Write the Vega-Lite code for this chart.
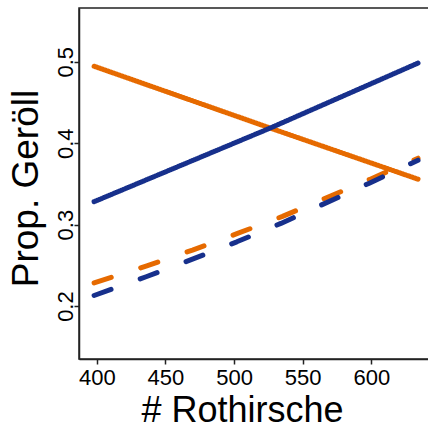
{
  "$schema": "https://vega.github.io/schema/vega-lite/v6.json",
  "autosize": {"type": "none"},
  "padding": {"left": 79, "top": 8, "right": 0, "bottom": 70},
  "width": 350,
  "height": 351,
  "background": "white",
  "config": {
    "view": {"stroke": "#222222", "strokeWidth": 1.5},
    "font": "Liberation Sans"
  },
  "data": {
    "values": [
      {"group": "orange", "kind": "solid", "x": 398, "y": 0.4945},
      {"group": "orange", "kind": "solid", "x": 526.3, "y": 0.4186},
      {"group": "orange", "kind": "solid", "x": 634, "y": 0.3558},
      {"group": "orange", "kind": "dashed", "x": 398, "y": 0.2284},
      {"group": "orange", "kind": "dashed", "x": 436.4, "y": 0.2494},
      {"group": "orange", "kind": "dashed", "x": 469.7, "y": 0.2687},
      {"group": "orange", "kind": "dashed", "x": 502.5, "y": 0.2892},
      {"group": "orange", "kind": "dashed", "x": 535.3, "y": 0.3101},
      {"group": "orange", "kind": "dashed", "x": 599.2, "y": 0.3558},
      {"group": "orange", "kind": "dashed", "x": 634, "y": 0.3816},
      {"group": "blue", "kind": "solid", "x": 398, "y": 0.3282},
      {"group": "blue", "kind": "solid", "x": 526.3, "y": 0.4186},
      {"group": "blue", "kind": "solid", "x": 634, "y": 0.4984},
      {"group": "blue", "kind": "dashed", "x": 398, "y": 0.2130},
      {"group": "blue", "kind": "dashed", "x": 435.9, "y": 0.2360},
      {"group": "blue", "kind": "dashed", "x": 469.2, "y": 0.2573},
      {"group": "blue", "kind": "dashed", "x": 502.0, "y": 0.2789},
      {"group": "blue", "kind": "dashed", "x": 534.1, "y": 0.3015},
      {"group": "blue", "kind": "dashed", "x": 598.5, "y": 0.3509},
      {"group": "blue", "kind": "dashed", "x": 634, "y": 0.3791}
    ]
  },
  "mark": {"type": "line", "strokeWidth": 5, "strokeCap": "round", "strokeJoin": "round"},
  "encoding": {
    "x": {
      "field": "x", "type": "quantitative",
      "scale": {"domain": [387, 642], "zero": false, "nice": false},
      "axis": {
        "values": [400, 450, 500, 550, 600],
        "grid": false,
        "domainColor": "#222222", "domainWidth": 1.5,
        "tickColor": "#222222", "tickWidth": 1.5, "tickSize": 5,
        "labelFontSize": 22, "labelColor": "black", "labelPadding": 3,
        "labelFont": "Liberation Sans",
        "title": "# Rothirsche",
        "titleFont": "Liberation Sans", "titleFontSize": 36, "titleFontWeight": "normal",
        "titleColor": "black",
        "titleX": 163, "titleY": 62, "titleAlign": "center", "titleBaseline": "alphabetic"
      }
    },
    "y": {
      "field": "y", "type": "quantitative",
      "scale": {"domain": [0.135, 0.566], "zero": false, "nice": false},
      "axis": {
        "values": [0.2, 0.3, 0.4, 0.5],
        "format": ".1f",
        "grid": false,
        "domainColor": "#222222", "domainWidth": 1.5,
        "tickColor": "#222222", "tickWidth": 1.5, "tickSize": 5,
        "labelFontSize": 22, "labelColor": "black", "labelPadding": 2,
        "labelFont": "Liberation Sans",
        "labelAngle": -90, "labelAlign": "center", "labelBaseline": "alphabetic",
        "title": "Prop. Geröll",
        "titleFont": "Liberation Sans", "titleFontSize": 37, "titleFontWeight": "normal",
        "titleColor": "black",
        "titleAngle": -90, "titleX": -42, "titleY": 180, "titleAlign": "center", "titleBaseline": "alphabetic"
      }
    },
    "color": {
      "field": "group", "type": "nominal",
      "scale": {"domain": ["orange", "blue"], "range": ["#e66a00", "#17308c"]},
      "legend": null
    },
    "strokeDash": {
      "field": "kind", "type": "nominal",
      "scale": {"domain": ["solid", "dashed"], "range": [[1, 0], [18, 31]]},
      "legend": null
    }
  }
}
